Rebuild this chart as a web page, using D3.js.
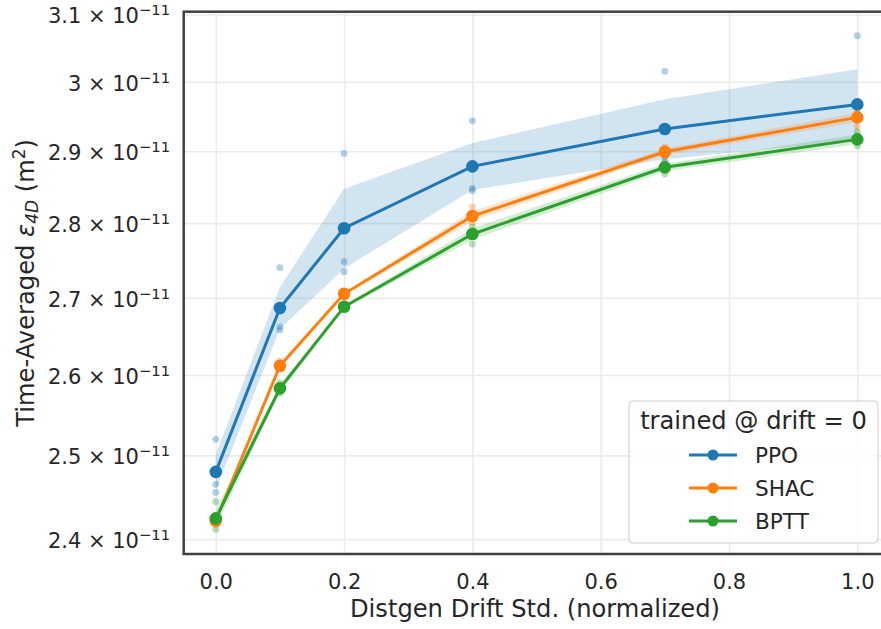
<!DOCTYPE html>
<html>
<head>
<meta charset="utf-8">
<script src="https://cdn.jsdelivr.net/npm/d3@7"></script>
<style>
  body { margin: 0; background: #fff; }
  text { font-family: "DejaVu Sans", sans-serif; fill: #262626; }
</style>
</head>
<body>
<svg id="chart" width="881" height="629"></svg>
<script>
// drift std (normalized) on x, seeds per point in units of 1e-11 m^2
var drift = [0, 0.1, 0.2, 0.4, 0.7, 1.0];
var ppoRuns = [
  [2.5197, 2.4650, 2.4553],
  [2.7398, 2.6619, 2.6577],
  [2.8970, 2.7478, 2.7344],
  [2.9434, 2.8479, 2.8446],
  [3.0153, 2.8930, 2.8865],
  [3.0681, 2.9190, 2.9140]
];
var shacRuns = [
  [2.4240, 2.4210, 2.4198],
  [2.6180, 2.6100, 2.6074],
  [2.7090, 2.7040, 2.7023],
  [2.8220, 2.8060, 2.8011],
  [2.9063, 2.8980, 2.8933],
  [2.9560, 2.9530, 2.9358]
];
var bpttRuns = [
  [2.4441, 2.4177, 2.4114],
  [2.5902, 2.5825, 2.5769],
  [2.6920, 2.6870, 2.6850],
  [2.7950, 2.7890, 2.7716],
  [2.8840, 2.8800, 2.8679],
  [2.9277, 2.9154, 2.9073]
];
var methods = ['PPO', 'SHAC', 'BPTT'];
var colors = ['#1f77b4', '#ff7f0e', '#2ca02c'];
var xTicks = [0, 0.2, 0.4, 0.6, 0.8, 1.0];
var yTicks = [2.4, 2.5, 2.6, 2.7, 2.8, 2.9, 3.0, 3.1];
var yTickLabels = ['2.4', '2.5', '2.6', '2.7', '2.8', '2.9', '3', '3.1'];
var legendTitle = 'trained @ drift = 0';

var svg = d3.select('#chart');
// note: "top" is taken by window.top, so prefix these
var axL = 183.7, axR = 889.4, axT = 11.7, axB = 554;

var x = d3.scaleLinear().domain([-0.05, 1.05]).range([axL, axR]);
var y = d3.scaleLog().domain([2.3826, 3.1043]).range([axB, axT]);

// bootstrap of the mean over every resample (n=3 -> 27), nearest-rank 95% interval
function bootCI(vals) {
  var means = [];
  vals.forEach(function (a) {
    vals.forEach(function (b) {
      vals.forEach(function (c) { means.push((a + b + c) / 3); });
    });
  });
  means.sort(d3.ascending);
  function pct(p) {
    return means[Math.round(p / 100 * (means.length - 1))];
  }
  return [pct(2.5), pct(97.5)];
}

var series = [ppoRuns, shacRuns, bpttRuns].map(function (runs, k) {
  return {
    name: methods[k],
    color: colors[k],
    runs: runs,
    pts: runs.map(function (r, i) {
      var ci = bootCI(r);
      return {x: drift[i], mean: d3.mean(r), lo: ci[0], hi: ci[1]};
    })
  };
});

// grid
svg.append('g').attr('transform', 'translate(0,' + axB + ')')
  .call(d3.axisBottom(x).tickValues(xTicks).tickSize(-(axB - axT)).tickFormat(''))
  .call(function (g) {
    g.select('.domain').remove();
    g.selectAll('line').attr('stroke', '#ebebeb').attr('stroke-width', 1.6);
  });
svg.append('g').attr('transform', 'translate(' + axL + ',0)')
  .call(d3.axisLeft(y).tickValues(yTicks).tickSize(-(axR - axL)).tickFormat(''))
  .call(function (g) {
    g.select('.domain').remove();
    g.selectAll('line').attr('stroke', '#ebebeb').attr('stroke-width', 1.6);
  });

// bands
var area = d3.area()
  .x(function (d) { return x(d.x); })
  .y0(function (d) { return y(d.lo); })
  .y1(function (d) { return y(d.hi); });
series.forEach(function (s) {
  svg.append('path').datum(s.pts)
    .attr('d', area)
    .attr('fill', s.color)
    .attr('fill-opacity', 0.2);
});

// individual seeds
series.forEach(function (s) {
  var flat = [];
  s.runs.forEach(function (r, i) { r.forEach(function (v) { flat.push({x: drift[i], v: v}); }); });
  svg.append('g').selectAll('circle').data(flat).enter().append('circle')
    .attr('cx', function (d) { return x(d.x); })
    .attr('cy', function (d) { return y(d.v); })
    .attr('r', 3.4)
    .attr('fill', s.color)
    .attr('fill-opacity', 0.35);
});

// mean lines + markers
var line = d3.line()
  .x(function (d) { return x(d.x); })
  .y(function (d) { return y(d.mean); });
series.forEach(function (s) {
  var g = svg.append('g');
  g.append('path').datum(s.pts)
    .attr('d', line)
    .attr('fill', 'none')
    .attr('stroke', s.color)
    .attr('stroke-width', 3);
  g.selectAll('circle').data(s.pts).enter().append('circle')
    .attr('cx', function (d) { return x(d.x); })
    .attr('cy', function (d) { return y(d.mean); })
    .attr('r', 6.3)
    .attr('fill', s.color);
});

// spines
svg.append('rect')
  .attr('x', axL).attr('y', axT)
  .attr('width', axR - axL).attr('height', axB - axT)
  .attr('fill', 'none').attr('stroke', '#404040').attr('stroke-width', 2.5);

// x ticks
svg.append('g').attr('transform', 'translate(0,' + axB + ')')
  .call(d3.axisBottom(x).tickValues(xTicks).tickSize(0).tickPadding(20.4)
    .tickFormat(function (d) { return d.toFixed(1); }))
  .call(function (g) {
    g.select('.domain').remove();
    g.selectAll('text').attr('font-size', 21).attr('fill', '#262626')
      .style('font-family', '"DejaVu Sans", sans-serif');
  });

// y ticks with mantissa x 10^-11
svg.append('g').attr('transform', 'translate(' + axL + ',0)')
  .call(d3.axisLeft(y).tickValues(yTicks).tickSize(0).tickPadding(13.5).tickFormat(''))
  .call(function (g) {
    g.select('.domain').remove();
    g.selectAll('text').each(function (d, i) {
      var t = d3.select(this).attr('font-size', 21).attr('fill', '#262626')
        .attr('dy', '0.4em')
        .style('font-family', '"DejaVu Sans", sans-serif');
      t.text(null);
      t.append('tspan').text(yTickLabels[i] + ' \u00d7 10');
      t.append('tspan').attr('dy', -8).attr('font-size', 14.8).text('\u221211');
    });
  });

// axis labels
svg.append('text')
  .attr('x', 535).attr('y', 617)
  .attr('text-anchor', 'middle').attr('font-size', 24.2)
  .text('Distgen Drift Std. (normalized)');

var yl = svg.append('text')
  .attr('transform', 'translate(34,' + ((axT + axB) / 2) + ') rotate(-90)')
  .attr('text-anchor', 'middle').attr('font-size', 24.2);
yl.append('tspan').text('Time-Averaged ');
yl.append('tspan').attr('font-style', 'italic').text('\u03b5');
yl.append('tspan').attr('font-style', 'italic').attr('font-size', 17).attr('dy', 4).text('4D');
yl.append('tspan').attr('dy', -4).text(' (m');
yl.append('tspan').attr('font-size', 17).attr('dy', -9).text('2');
yl.append('tspan').attr('dy', 9).text(')');

// legend
var lg = svg.append('g');
lg.append('rect')
  .attr('x', 629).attr('y', 401).attr('width', 249).attr('height', 142).attr('rx', 4)
  .attr('fill', '#fff').attr('fill-opacity', 0.8)
  .attr('stroke', '#cccccc').attr('stroke-width', 1);
lg.append('text')
  .attr('x', 753.5).attr('y', 428.5).attr('text-anchor', 'middle').attr('font-size', 24.2)
  .text(legendTitle);
series.forEach(function (s, i) {
  var ly = 455 + i * 33;
  lg.append('line').attr('x1', 689).attr('x2', 737).attr('y1', ly).attr('y2', ly)
    .attr('stroke', s.color).attr('stroke-width', 3);
  lg.append('circle').attr('cx', 713).attr('cy', ly).attr('r', 5.5).attr('fill', s.color);
  lg.append('text').attr('x', 755).attr('y', ly).attr('dy', '0.36em').attr('font-size', 21.6)
    .text(s.name);
});
</script>
</body>
</html>
